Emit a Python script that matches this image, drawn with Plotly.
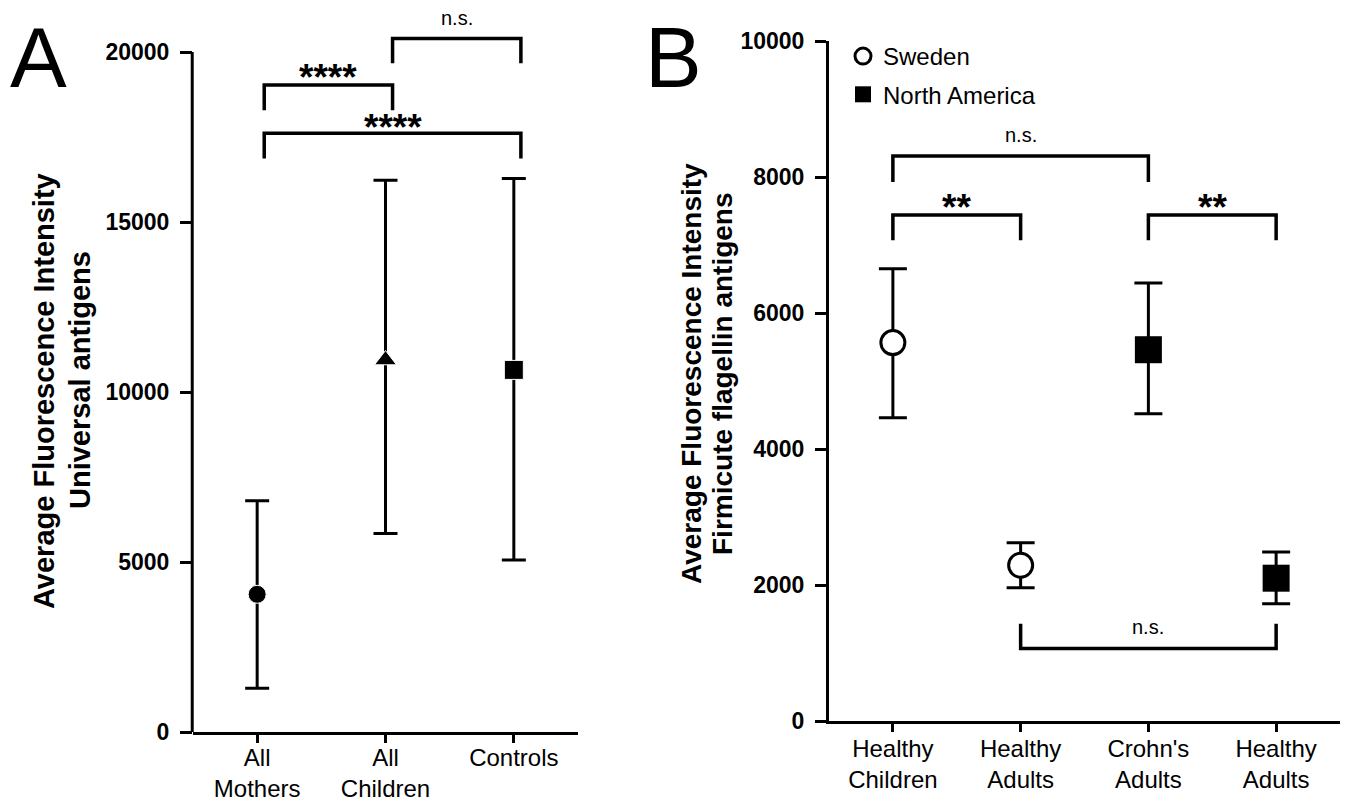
import plotly.graph_objects as go

# ---------------- Data ----------------
A_categories = ["All<br>Mothers", "All<br>Children", "Controls"]
A_means = [4050, 10940, 10650]
A_upper = [6800, 16230, 16280]
A_lower = [1290, 5840, 5060]
A_symbols = ["circle", "triangle-up", "square"]
A_yticks = [0, 5000, 10000, 15000, 20000]

B_categories = ["Healthy<br>Children", "Healthy<br>Adults", "Crohn's<br>Adults", "Healthy<br>Adults"]
B_sweden_x = [0, 1]
B_sweden_mean = [5565, 2290]
B_sweden_upper = [6650, 2620]
B_sweden_lower = [4460, 1960]
B_na_x = [2, 3]
B_na_mean = [5460, 2100]
B_na_upper = [6440, 2485]
B_na_lower = [4520, 1725]
B_yticks = [0, 2000, 4000, 6000, 8000, 10000]

# significance brackets: (left, right, bar level, leg end, label, label level)
A_brackets = [
    (0, 1, 19030, 18290, "****", 19470),
    (0, 2, 17610, 16870, "****", 18000),
    (1, 2, 20400, 19670, "n.s.", 20940),
]
B_brackets = [
    (0, 2, 8310, 7925, "n.s.", 8590),
    (0, 1, 7440, 7070, "**", 7660),
    (2, 3, 7440, 7070, "**", 7660),
    (1, 3, 1065, 1430, "n.s.", 1360),
]

# ---------------- Layout helpers ----------------
OFF = 8  # page body margin offset of the figure inside the browser window
W, H = 1350 - OFF, 802 - OFF
ML, MR, MT, MB = 193 - OFF, 10, 10 - OFF, 70
PW, PH = W - ML - MR, H - MT - MB


def px_x(px):
    return (px - OFF - ML) / PW


def px_y(py):
    return (H - MB - (py - OFF)) / PH


FONT = "Liberation Sans, Arial, sans-serif"
BLACK = "#000000"

fig = go.Figure()

# ---------------- Panel A ----------------
fig.add_trace(go.Scatter(
    x=list(range(len(A_categories))), y=A_means,
    mode="markers",
    marker=dict(symbol=A_symbols, size=[18, 19, 19], color=BLACK, opacity=1),
    error_y=dict(type="data", symmetric=False,
                 array=[u - m for u, m in zip(A_upper, A_means)],
                 arrayminus=[m - l for m, l in zip(A_means, A_lower)],
                 color=BLACK, thickness=3, width=12),
    xaxis="x", yaxis="y", showlegend=False, hoverinfo="skip",
))

STAR_SIZE = 37
NS_SIZE = 20
A_off = 0.055
for l, r, bar, leg, lab, ly in A_brackets:
    fig.add_trace(go.Scatter(
        x=[l + A_off, l + A_off, r + A_off, r + A_off], y=[leg, bar, bar, leg],
        mode="lines", line=dict(color=BLACK, width=3.5),
        xaxis="x", yaxis="y", showlegend=False, hoverinfo="skip",
    ))
    star = lab.startswith("*")
    fig.add_annotation(
        x=(l + r) / 2 + A_off, y=ly, xref="x", yref="y", text=lab, showarrow=False,
        xanchor="center", yanchor="middle", yshift=-7 if star else 2,
        font=dict(family=FONT, size=STAR_SIZE if star else NS_SIZE, color=BLACK,
                  weight="bold" if star else "normal"),
    )

# ---------------- Panel B ----------------
fig.add_trace(go.Scatter(
    x=B_sweden_x, y=B_sweden_mean, name="Sweden", legendgroup="sweden",
    mode="markers",
    marker=dict(symbol="circle", size=24, color="white", opacity=1,
                line=dict(color=BLACK, width=3)),
    error_y=dict(type="data", symmetric=False,
                 array=[u - m for u, m in zip(B_sweden_upper, B_sweden_mean)],
                 arrayminus=[m - l for m, l in zip(B_sweden_mean, B_sweden_lower)],
                 color=BLACK, thickness=3, width=14),
    xaxis="x2", yaxis="y2", showlegend=True, hoverinfo="skip",
))
fig.add_trace(go.Scatter(
    x=B_na_x, y=B_na_mean, name="North America", legendgroup="na",
    mode="markers",
    marker=dict(symbol="square", size=27, color=BLACK, opacity=1),
    error_y=dict(type="data", symmetric=False,
                 array=[u - m for u, m in zip(B_na_upper, B_na_mean)],
                 arrayminus=[m - l for m, l in zip(B_na_mean, B_na_lower)],
                 color=BLACK, thickness=3, width=14),
    xaxis="x2", yaxis="y2", showlegend=True, hoverinfo="skip",
))

for l, r, bar, leg, lab, ly in B_brackets:
    fig.add_trace(go.Scatter(
        x=[l, l, r, r], y=[leg, bar, bar, leg],
        mode="lines", line=dict(color=BLACK, width=3.5),
        xaxis="x2", yaxis="y2", showlegend=False, hoverinfo="skip",
    ))
    star = lab.startswith("*")
    fig.add_annotation(
        x=(l + r) / 2, y=ly, xref="x2", yref="y2", text=lab, showarrow=False,
        xanchor="center", yanchor="middle", yshift=-7 if star else 2,
        font=dict(family=FONT, size=STAR_SIZE if star else NS_SIZE, color=BLACK,
                  weight="bold" if star else "normal"),
    )

# manual y-axis line for panel A (stops at top tick)
fig.add_shape(type="line", xref="x domain", yref="y", x0=-0.002, x1=-0.002,
              y0=A_yticks[0], y1=A_yticks[-1], line=dict(color=BLACK, width=3))

# panel letters
fig.add_annotation(x=px_x(38), y=px_y(57), xref="paper", yref="paper", text="A",
                   showarrow=False, xanchor="center", yanchor="middle",
                   font=dict(family=FONT, size=85, color=BLACK))
fig.add_annotation(x=px_x(673), y=px_y(57), xref="paper", yref="paper", text="B",
                   showarrow=False, xanchor="center", yanchor="middle",
                   font=dict(family=FONT, size=85, color=BLACK))

# axis titles: (text, center x px, center y px, font size)
titles = [
    ("Average Fluorescence Intensity", 44, 391, 29),
    ("Universal antigens", 80, 380, 29),
    ("Average Fluorescence Intensity", 691, 374, 28),
    ("Firmicute flagellin antigens", 722, 374, 28),
]
for txt, cx, cy, fs in titles:
    fig.add_annotation(x=px_x(cx), y=px_y(cy), xref="paper", yref="paper", text=txt,
                       showarrow=False, textangle=-90, xanchor="center", yanchor="middle",
                       font=dict(family=FONT, size=fs, color=BLACK, weight="bold"))

A_top = (H - MB - MT) / 0.034  # value at top of plotting area for panel A

axis_common = dict(showgrid=False, zeroline=False, ticks="outside", tickcolor=BLACK,
                   tickwidth=3, linecolor=BLACK, linewidth=3, automargin=False)

fig.update_layout(
    width=W, height=H,
    margin=dict(l=ML, r=MR, t=MT, b=MB, autoexpand=False),
    paper_bgcolor="white", plot_bgcolor="white",
    font=dict(family=FONT, color=BLACK),
    xaxis=dict(domain=[0, px_x(578)], range=[-0.5, 2.5], anchor="y",
               tickvals=list(range(len(A_categories))), ticktext=A_categories,
               showline=True, ticklen=8, ticklabelstandoff=-6,
               tickfont=dict(size=24, family=FONT),
               **axis_common),
    yaxis=dict(domain=[0, 1], range=[0, A_top], anchor="x",
               tickvals=A_yticks, ticktext=[str(v) for v in A_yticks],
               showline=False, ticklen=12, ticklabelstandoff=6,
               tickfont=dict(size=23, family=FONT, weight="bold"),
               **axis_common),
    xaxis2=dict(domain=[px_x(829), 1], range=[-0.5, 3.5], anchor="y2",
                tickvals=list(range(len(B_categories))), ticktext=B_categories,
                showline=True, ticklen=8, ticklabelstandoff=-4,
                tickfont=dict(size=24, family=FONT),
                **axis_common),
    yaxis2=dict(domain=[px_y(721), px_y(41)], range=[0, 10000], anchor="x2",
                tickvals=B_yticks, ticktext=[str(v) for v in B_yticks],
                showline=True, ticklen=11, ticklabelstandoff=6,
                tickfont=dict(size=23, family=FONT, weight="bold"),
                **axis_common),
    legend=dict(x=px_x(843), y=px_y(34), xanchor="left", yanchor="top",
                font=dict(family=FONT, size=24, color=BLACK),
                bgcolor="rgba(0,0,0,0)", borderwidth=0, tracegroupgap=4,
                itemsizing="trace"),
)

fig.write_html("out.html")
